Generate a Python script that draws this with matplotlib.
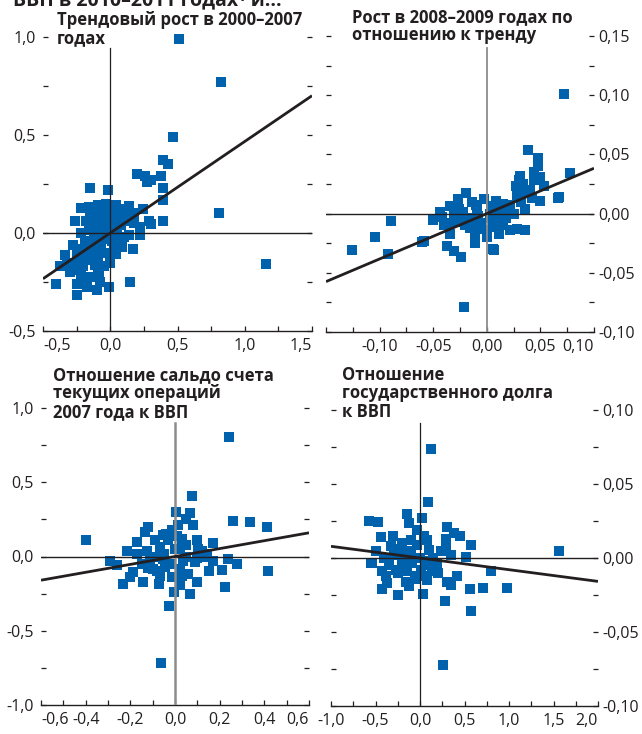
import matplotlib.pyplot as plt
import numpy as np

plt.rcParams['font.family'] = ['Open Sans', 'DejaVu Sans']

# Trend growth 2000-2007 (x) vs. growth 2010-2011 (y)
trend_x = [0.51, 0.82, 0.47, 0.39, 0.43, 0.81, 1.16,
           0.20, 0.26, 0.27, 0.30, 0.38, 0.39, -0.15, -0.02, 0.39, -0.22, -0.16,
           -0.09, -0.03, 0.04, 0.14, 0.24, 0.15, 0.10, -0.26, -0.13, -0.05, 0.05,
           0.29, 0.39, 0.22, 0.30, -0.10, -0.04, -0.22, -0.16, 0.05, 0.14, 0.22,
           -0.19, -0.12, -0.06, 0.01, 0.09, 0.17, -0.34, -0.25, -0.17, -0.09, 0.04,
           -0.37, -0.27, -0.20, -0.11, 0.00, -0.30, -0.22, -0.15, -0.09, -0.40,
           -0.25, -0.17, -0.10, -0.01, 0.15, -0.25, -0.075, -0.19,
           -0.05, -0.02, -0.07, -0.14, -0.08, 0.02, 0.08, -0.11, -0.03, 0.12,
           -0.20, 0.07, -0.13, -0.05, 0.11, 0.18,
           -0.18, -0.12, -0.06, 0.00, 0.06, 0.18, -0.28, -0.14, 0.03, 0.10,
           -0.21, -0.08, -0.15, 0.01, -0.32, -0.24]
trend_y = [0.99, 0.77, 0.49, 0.37, 0.35, 0.10, -0.16,
           0.30, 0.29, 0.26, 0.27, 0.29, 0.23, 0.23, 0.22, 0.17, 0.125, 0.135,
           0.145, 0.15, 0.145, 0.14, 0.12, 0.10, 0.10, 0.06, 0.08, 0.095, 0.08,
           0.06, 0.06, 0.03, 0.045, 0.035, 0.045, 0.0, 0.015, 0.01, -0.01, -0.01,
           -0.04, -0.05, -0.03, -0.04, -0.07, -0.08, -0.11, -0.105, -0.115, -0.12, -0.105,
           -0.17, -0.155, -0.17, -0.165, -0.155, -0.20, -0.215, -0.225, -0.205, -0.26,
           -0.26, -0.275, -0.29, -0.275, -0.25, -0.315, -0.25, -0.24,
           0.02, -0.005, -0.07, -0.09, 0.11, 0.12, 0.04, -0.01, -0.10, 0.06,
           -0.08, -0.03, 0.05, -0.17, 0.12, 0.05,
           0.06, 0.00, 0.06, 0.07, 0.11, 0.10, -0.06, -0.14, -0.07, -0.02,
           -0.13, -0.22, 0.11, 0.04, -0.16, -0.19]

# Growth in 2008-2009 relative to trend
crisis_x = [0.038, 0.048, 0.048, 0.044, 0.031, 0.050, 0.078, 0.027, 0.034, 0.053,
            0.067, 0.050, 0.042, 0.028, 0.022, 0.036, 0.009, -0.003, -0.019, -0.027,
            -0.014, -0.034, -0.044, -0.042, -0.031, -0.022, -0.009, 0.003, 0.0125, 0.025,
            -0.034, -0.025, -0.014, -0.005, 0.009, 0.022, 0.028, 0.036, -0.034, -0.011,
            0.000, 0.011, -0.059, -0.0375, -0.031, -0.024, -0.011, 0.006, 0.000, -0.006,
            0.006, -0.1256, -0.104, -0.089, -0.092, -0.060, -0.021, 0.007, 0.066, 0.072,
            0.015, -0.018, 0.018, -0.008, 0.032, 0.040, -0.016, 0.015, 0.044, -0.050,
            -0.026, -0.010, 0.004, 0.020, 0.034, -0.020, 0.004, 0.030, -0.040, 0.012]
crisis_y = [0.054, 0.047, 0.040, 0.035, 0.032, 0.031, 0.034, 0.023, 0.025, 0.023,
            0.014, 0.011, 0.013, 0.016, 0.007, 0.004, 0.011, 0.012, 0.017, 0.012,
            0.010, 0.006, 0.0015, -0.003, -0.0015, 0.0015, 0.004, 0.000, 0.003, 0.000,
            -0.008, -0.007, -0.006, -0.008, -0.007, -0.014, -0.013, -0.0135, -0.017, -0.018,
            -0.020, -0.017, -0.023, -0.027, -0.032, -0.037, -0.025, -0.030, -0.014, -0.013,
            -0.011, -0.0305, -0.020, -0.006, -0.034, -0.024, -0.079, -0.0305, 0.013, 0.101,
            0.008, -0.004, -0.004, -0.002, 0.010, 0.020, -0.012, -0.010, 0.028, -0.005,
            0.004, 0.007, 0.006, 0.004, 0.018, -0.010, -0.004, 0.028, -0.010, -0.002]

# Current account balance 2007 to GDP
ca_x = [0.075, 0.004, 0.067, 0.26, 0.336, 0.41, 0.082, 0.05, 0.015, -0.12,
        -0.134, -0.055, -0.015, -0.40, -0.17, -0.09, -0.03, 0.03, 0.097, 0.17,
        -0.217, -0.127, -0.067, 0.022, 0.105, 0.142, -0.29, -0.26, -0.112, -0.052,
        0.037, 0.09, 0.17, 0.236, 0.277, -0.187, -0.097, -0.045, 0.022, 0.15,
        0.209, 0.416, -0.235, -0.142, -0.07, 0.022, 0.097, -0.003, 0.067, 0.224,
        -0.025, -0.20, -0.067, -0.015, 0.24, -0.063,
        -0.10, -0.05, 0.00, 0.05, -0.15, 0.10, -0.02, 0.05, -0.08, 0.12,
        -0.04, 0.01, 0.06, -0.12, 0.13, -0.06, 0.03, -0.17]
ca_y = [0.41, 0.30, 0.29, 0.24, 0.23, 0.196, 0.21, 0.25, 0.21, 0.198,
        0.164, 0.146, 0.176, 0.108, 0.097, 0.108, 0.108, 0.12, 0.113, 0.09,
        0.04, 0.04, 0.063, 0.052, 0.052, 0.018, -0.027, -0.056, -0.027, -0.016,
        -0.027, -0.038, -0.027, -0.02, -0.05, -0.106, -0.083, -0.072, -0.083, -0.095,
        -0.088, -0.095, -0.185, -0.173, -0.185, -0.19, -0.173, -0.24, -0.25, -0.207,
        -0.33, -0.14, -0.128, -0.14, 0.806, -0.714,
        0.00, 0.02, 0.05, 0.00, -0.05, -0.01, -0.05, 0.08, -0.10, 0.04,
        0.15, 0.14, -0.12, -0.08, 0.00, 0.01, -0.13, 0.02]

# Government debt to GDP
debt_x = [0.094, -0.142, 0.026, -0.573, -0.468, -0.124, -0.03, 0.30, 0.38, 0.446,
          -0.442, 0.082, -0.105, 0.288, 0.577, -0.33, -0.20, -0.03, 0.10, 0.288,
          0.232, 0.345, 0.513, -0.498, -0.547, -0.404, -0.292, -0.18, -0.086, 0.064,
          0.195, -0.423, -0.273, -0.142, 0.007, 0.139, 0.42, 0.794, -0.367, -0.161,
          0.082, 0.30, 0.352, -0.423, -0.124, 0.037, -0.243, 0.558, 0.712, 0.981,
          0.277, 0.577, 0.124, 1.56, 0.26, -0.54,
          -0.30, -0.20, -0.10, 0.00, -0.05, 0.15, -0.35, 0.10, -0.25, 0.05,
          -0.15, -0.06, 0.04, -0.22, 0.20, -0.38]
debt_y = [0.038, 0.030, 0.027, 0.025, 0.024, 0.0236, 0.019, 0.021, 0.017, 0.015,
          0.014, 0.012, 0.012, 0.013, 0.009, 0.008, 0.010, 0.009, 0.0056, 0.009,
          0.0045, 0.002, 0.0005, 0.0045, -0.0034, 0.000, 0.002, -0.001, -0.0034, -0.002,
          -0.0034, -0.009, -0.008, -0.009, -0.008, -0.009, -0.012, -0.009, -0.017, -0.016,
          -0.0146, -0.016, -0.018, -0.021, -0.019, -0.024, -0.025, -0.021, -0.020, -0.020,
          -0.029, -0.036, 0.0735, 0.005, -0.072, -0.0036,
          0.015, -0.005, 0.005, 0.000, -0.012, 0.000, -0.005, -0.005, -0.010, 0.015,
          0.004, -0.014, -0.012, 0.006, -0.010, -0.012]

# fitted slopes of the regression lines
trend_slope = 0.467
crisis_slope = 0.383
ca_slope = 0.266
debt_slope = -0.0079

dark = '#231f20'
blue = '#0061ad'
grey = '#8c8c8c'

fig = plt.figure(figsize=(6.42, 7.34), dpi=100)
W, H = 642, 734


def px_axes(left, top, right, bottom):
    return fig.add_axes([left / W, 1 - bottom / H, (right - left) / W, (bottom - top) / H])


def setup(ax, x, y, slope, xlim, ylim, xmajor, xlabels, xminor, ymajor, ylabels, yminor,
          side, vcolor, vwidth, vtop, edge_left=True):
    ax.scatter(x, y, marker='s', s=52, color=blue, linewidths=0, zorder=2, clip_on=False)
    ax.axhline(0, color=dark, lw=1.0, zorder=3)
    ax.axvline(0, ymax=vtop, color=vcolor, lw=vwidth, zorder=3)
    xs = np.array(xlim)
    ax.plot(xs, slope * xs, color=dark, lw=2.0, zorder=4, solid_capstyle='butt')
    ax.set_xlim(xlim)
    ax.set_ylim(ylim)
    ax.set_xticks(xmajor, xlabels)
    ax.set_xticks(xminor, minor=True)
    ax.set_yticks(ymajor, ylabels)
    ax.set_yticks(yminor, minor=True)
    for s in ['top', 'left', 'right']:
        ax.spines[s].set_visible(False)
    ax.spines['bottom'].set_color(dark)
    ax.spines['bottom'].set_linewidth(1.0)
    ax.tick_params(which='both', direction='in', length=3.6, width=0.9, color=dark,
                   labelsize=11.5, labelcolor=dark, pad=5)
    ax.tick_params(axis='y', which='both', left=True, right=True,
                   labelleft=(side == 'left'), labelright=(side == 'right'),
                   pad=(5 if side == 'left' else 3))
    ax.patch.set_visible(False)
    labels = ax.get_xticklabels()
    if edge_left:
        labels[0].set_ha('left')
    labels[-1].set_ha('right')


ax1 = px_axes(43, 37, 312, 331)
setup(ax1, trend_x, trend_y, trend_slope, (-0.5, 1.5), (-0.5, 1.0),
      [-0.5, 0, 0.5, 1.0, 1.5], ['-0,5', '0,0', '0,5', '1,0', '1,5'],
      np.arange(-0.5, 1.51, 0.25),
      [-0.5, 0, 0.5, 1.0], ['-0,5', '0,0', '0,5', '1,0'], [-0.25, 0.25, 0.75],
      'left', dark, 0.9, 0.963)

ax2 = px_axes(326, 36, 594, 332)
setup(ax2, crisis_x, crisis_y, crisis_slope, (-0.15, 0.10), (-0.10, 0.15),
      [-0.10, -0.05, 0, 0.05, 0.10], ['-0,10', '-0,05', '0,00', '0,05', '0,10'],
      np.arange(-0.15, 0.101, 0.025),
      [-0.10, -0.05, 0, 0.05, 0.10, 0.15], ['-0,10', '-0,05', '0,00', '0,05', '0,10', '0,15'],
      [-0.075, -0.025, 0.025, 0.075, 0.125],
      'right', grey, 1.3, 0.96, edge_left=False)

ax3 = px_axes(41, 408, 309, 705)
setup(ax3, ca_x, ca_y, ca_slope, (-0.6, 0.6), (-1.0, 1.0),
      [-0.6, -0.4, -0.2, 0, 0.2, 0.4, 0.6], ['-0,6', '-0,4', '-0,2', '0,0', '0,2', '0,4', '0,6'],
      np.arange(-0.6, 0.61, 0.1),
      [-1.0, -0.5, 0, 0.5, 1.0], ['-1,0', '-0,5', '0,0', '0,5', '1,0'],
      [-0.75, -0.25, 0.25, 0.75],
      'left', grey, 1.8, 0.95)

ax4 = px_axes(331, 410, 598, 706)
setup(ax4, debt_x, debt_y, debt_slope, (-1.0, 2.0), (-0.10, 0.10),
      [-1.0, -0.5, 0, 0.5, 1.0, 1.5, 2.0], ['-1,0', '-0,5', '0,0', '0,5', '1,0', '1,5', '2,0'],
      np.arange(-1.0, 2.01, 0.25),
      [-0.10, -0.05, 0, 0.05, 0.10], ['-0,10', '-0,05', '0,00', '0,05', '0,10'],
      [-0.075, -0.025, 0.025, 0.075],
      'right', dark, 0.9, 0.956, edge_left=False)

title_kw = dict(fontsize=12, fontweight='bold', color=dark, va='top', ha='left', linespacing=1.03)
fig.text(57 / W, 1 - 11 / H, 'Трендовый рост в 2000–2007\nгодах', **title_kw)
fig.text(352 / W, 1 - 8 / H, 'Рост в 2008–2009 годах по\nотношению к тренду', **title_kw)
fig.text(53 / W, 1 - 366 / H, 'Отношение сальдо счета\nтекущих операций\n2007 года к ВВП', **title_kw)
fig.text(342 / W, 1 - 366 / H, 'Отношение\nгосударственного долга\nк ВВП', **title_kw)

# heading line running off the top edge
fig.text(13 / W, 1 - 5 / H, 'ВВП в 2010–2011 годах¹ и...', fontsize=14, fontweight='bold',
         color=dark, va='baseline', ha='left')

fig.savefig('out.png', dpi=100)
